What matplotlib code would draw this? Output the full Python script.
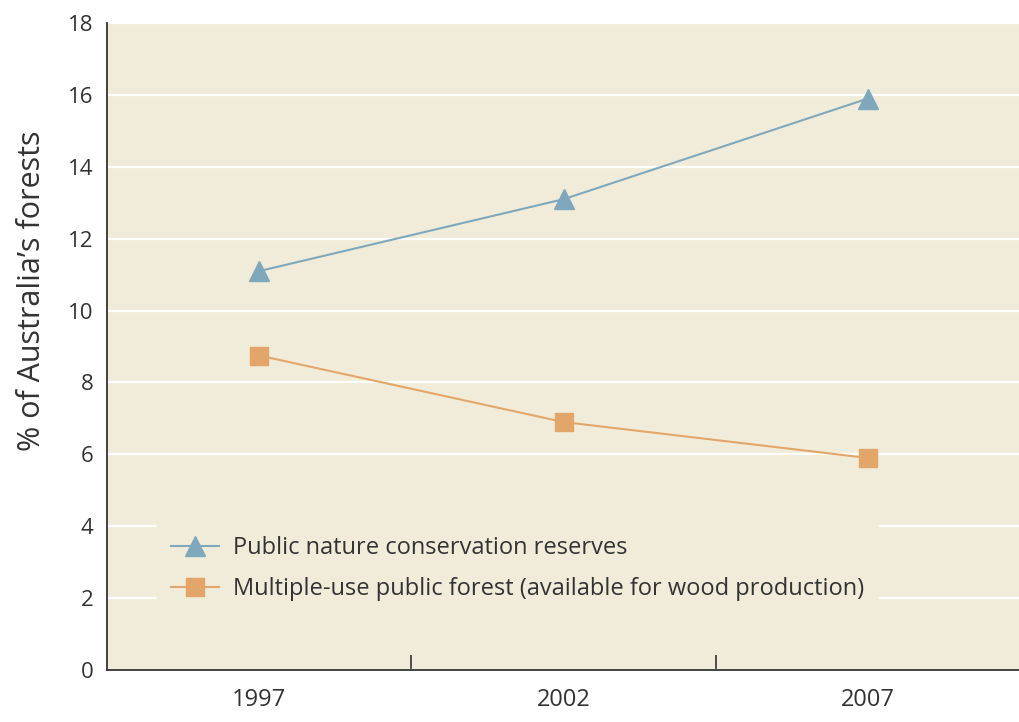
import matplotlib.pyplot as plt
import numpy as np

plt.rcParams['font.family'] = ['Open Sans', 'DejaVu Sans']

years = ['1997', '2002', '2007']
reserves = [11.1, 13.1, 15.9]
multi_use = [8.75, 6.9, 5.9]
yticks = [0, 2, 4, 6, 8, 10, 12, 14, 16, 18]

bg = '#f0ecd9'
blue = '#7fa8bd'
orange = '#e3a66a'
txt = '#333333'

fig = plt.figure(figsize=(10.2, 7.22), dpi=100)
ax = fig.add_axes([0.105, 0.072, 0.895, 0.896])
ax.set_facecolor(bg)

x = np.arange(len(years))
ax.plot(x, reserves, color=blue, linewidth=1.5, marker='^', markersize=14,
        markeredgecolor=blue, label='Public nature conservation reserves', zorder=3)
ax.plot(x, multi_use, color=orange, linewidth=1.5, marker='s', markersize=12.5,
        markeredgecolor=orange, label='Multiple-use public forest (available for wood production)', zorder=3)

ax.set_ylim(0, 18)
ax.set_yticks(yticks)
ax.set_xlim(-0.5, 2.5)
ax.set_xticks(x)
ax.set_xticklabels(years)
ax.set_xticks([0.5, 1.5], minor=True)
ax.tick_params(axis='x', which='major', length=0, pad=13, labelsize=17, labelcolor=txt)
ax.tick_params(axis='x', which='minor', direction='in', length=11, width=1.2, color=txt)
ax.tick_params(axis='y', length=0, pad=10, labelsize=16, labelcolor=txt)

ax.grid(axis='y', color='white', linewidth=1.6)
ax.set_axisbelow(True)

for s in ['top', 'right']:
    ax.spines[s].set_visible(False)
for s in ['left', 'bottom']:
    ax.spines[s].set_color(txt)
    ax.spines[s].set_linewidth(1.3)

ax.set_ylabel("% of Australia\u2019s forests", fontsize=22, color=txt)
ax.yaxis.set_label_coords(-0.066, 0.587)

leg = ax.legend(loc='lower left', bbox_to_anchor=(0.055, 0.085), frameon=True,
                facecolor=bg, edgecolor=bg, framealpha=1, fontsize=17,
                handlelength=2.0, handletextpad=0.6, labelspacing=0.72,
                borderpad=0.6, borderaxespad=0)
leg.get_frame().set_boxstyle('square', pad=0)
for t in leg.get_texts():
    t.set_color(txt)

fig.savefig('out.png', dpi=100)
